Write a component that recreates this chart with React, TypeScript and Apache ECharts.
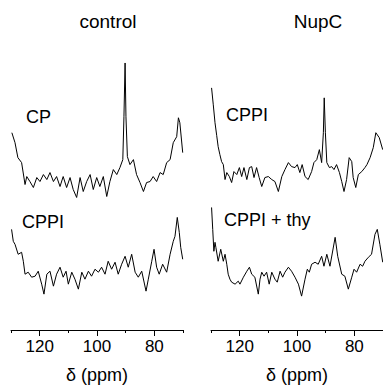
import React, { useEffect, useRef } from "react";
import * as echarts from "echarts";

// Column titles and spectrum labels
const columnTitles = ["control", "NupC"];
const spectrumLabels = ["CP", "CPPI", "CPPI", "CPPI + thy"];
const axisTitle = "δ (ppm)";
const majorTicks = [80, 100, 120];
const minorTicks = [70, 90, 110, 130];

// control, CP
const ctlCpPpm = [129.7,128.6,127.6,126.3,125.1,124.5,123.4,122.2,121.0,119.9,118.7,117.5,116.4,115.2,114.1,112.9,111.8,110.6,109.4,108.3,107.1,105.9,104.8,103.6,102.4,101.3,100.1,99.0,97.8,96.6,95.5,94.3,93.1,92.0,91.0,90.6,90.2,89.9,89.4,88.5,87.3,86.2,85.0,83.8,82.7,81.5,80.4,79.2,78.0,76.9,75.7,74.5,73.4,72.2,71.6,71.1,70.1];
const ctlCpInt = [198,188,173,168,146,154,149,143,153,149,156,151,158,149,154,144,154,143,153,141,133,153,139,149,156,141,153,144,154,134,149,161,156,163,171,214,268,214,174,166,171,156,148,139,148,149,154,149,158,156,168,171,188,194,213,208,178];

// control, CPPI
const ctlCppiPpm = [129.8,129.2,128.6,127.5,126.3,125.7,125.1,124.0,122.8,121.6,120.5,119.3,118.5,117.5,116.4,115.2,114.1,112.9,111.8,110.8,110.0,108.8,107.7,106.5,105.3,104.2,103.0,101.9,100.7,99.5,98.4,97.2,96.1,94.9,93.7,92.6,91.4,90.2,89.1,87.9,86.7,85.6,84.4,82.9,82.1,80.9,80.1,79.2,78.3,77.1,75.7,74.5,73.4,72.8,72.0,71.3,70.8,70.1];
const ctlCppiInt = [101,89,86,76,78,69,56,58,53,54,59,46,36,56,59,44,56,63,53,59,46,58,51,41,58,51,59,54,61,58,63,56,69,61,68,56,66,74,63,76,58,53,59,39,51,69,81,63,56,66,58,76,89,94,113,98,83,71];

// NupC, CPPI
const nupCppiPpm = [129.8,129.2,128.6,128.0,127.5,126.9,126.3,125.7,125.1,124.5,123.6,122.8,122.0,121.0,120.1,119.3,118.5,117.5,116.6,115.8,115.0,114.1,113.2,112.3,111.2,110.0,108.8,107.7,106.5,105.3,104.2,103.0,101.9,100.7,99.9,99.0,98.2,97.2,96.1,94.9,94.1,93.1,92.2,91.4,90.8,90.5,90.1,89.6,88.7,87.9,87.1,86.2,85.2,84.4,83.6,82.7,81.8,80.9,80.4,79.5,78.6,77.4,76.3,75.6,74.5,73.4,72.5,71.3,70.1];
const nupCppiInt = [243,226,208,195,184,176,169,166,151,158,154,148,159,156,163,154,163,151,163,164,153,163,153,144,153,154,151,149,139,154,161,168,164,163,166,158,166,154,151,159,168,171,181,168,198,233,198,168,163,164,161,166,158,149,139,151,173,169,153,143,156,159,163,166,173,183,198,193,181];

// NupC, CPPI + thy
const nupThyPpm = [129.8,129.4,129.0,128.6,128.3,127.5,126.6,125.7,125.1,124.5,124.0,123.4,122.8,121.6,120.5,119.9,118.7,117.5,116.6,115.8,114.7,113.5,112.9,112.3,111.5,110.6,109.7,108.8,107.7,106.9,105.9,105.0,104.2,103.0,101.9,100.7,99.5,98.4,97.2,96.4,95.7,94.9,93.7,92.6,91.4,90.6,89.6,88.5,86.7,85.8,84.4,83.3,82.1,80.9,80.1,79.2,78.0,77.1,76.3,75.1,74.0,72.8,72.0,71.1,70.1];
const nupThyInt = [123,101,79,88,83,69,81,69,76,66,56,51,48,46,49,46,53,59,63,56,53,36,51,58,54,58,46,58,51,48,59,53,58,63,59,53,46,34,51,61,58,66,68,66,74,64,76,64,93,74,56,54,41,53,61,58,66,64,69,73,76,96,101,86,68];

const FONT = "'Liberation Sans', Arial, Helvetica, sans-serif";

const pairs = (xs: number[], ys: number[]) => xs.map((x, i) => [x, ys[i]]);

export default function App() {
  const ref = useRef<HTMLDivElement>(null);
  useEffect(() => {
    if (!ref.current) return;
    const chart = echarts.init(ref.current, null, { renderer: "svg" });
    const grids = [
      { left: 11, top: 55, width: 172, height: 276 },
      { left: 211, top: 55, width: 172, height: 276 },
    ];
    const xAxes: any[] = [];
    grids.forEach((_, gi) => {
      xAxes.push({
        type: "value",
        gridIndex: gi,
        position: "bottom",
        min: 70,
        max: 130,
        inverse: true,
        name: axisTitle,
        nameLocation: "middle",
        nameGap: 36,
        nameTextStyle: { fontFamily: FONT, fontSize: 18, color: "#000" },
        axisLine: { show: true, lineStyle: { color: "#000", width: 1 } },
        axisTick: { show: true, customValues: majorTicks, length: 6, lineStyle: { color: "#000", width: 1 } },
        axisLabel: { show: true, customValues: majorTicks, margin: 8, fontFamily: FONT, fontSize: 17, color: "#000" },
        splitLine: { show: false },
      });
      xAxes.push({
        type: "value",
        gridIndex: gi,
        position: "bottom",
        min: 70,
        max: 130,
        inverse: true,
        axisLine: { show: false },
        axisTick: { show: true, customValues: minorTicks, length: 3, lineStyle: { color: "#000", width: 1 } },
        axisLabel: { show: false },
        splitLine: { show: false },
      });
    });
    const yAxes = grids.map((_, gi) => ({
      type: "value",
      gridIndex: gi,
      min: 0,
      max: 276,
      show: false,
      splitLine: { show: false },
    }));
    const line = (name: string, xi: number, yi: number, xs: number[], ys: number[]) => ({
      type: "line",
      name,
      xAxisIndex: xi,
      yAxisIndex: yi,
      data: pairs(xs, ys),
      showSymbol: false,
      symbol: "none",
      smooth: false,
      lineStyle: { color: "#000", width: 1 },
      silent: true,
    });
    const text = (t: string, x: number, y: number, size: number, align: string) => ({
      type: "text",
      x,
      y,
      style: { text: t, fontFamily: FONT, fontSize: size, fill: "#000", align, verticalAlign: "middle" },
    });
    chart.setOption({
      animation: false,
      backgroundColor: "#fff",
      grid: grids,
      xAxis: xAxes,
      yAxis: yAxes,
      series: [
        line("control CP", 0, 0, ctlCpPpm, ctlCpInt),
        line("control CPPI", 0, 0, ctlCppiPpm, ctlCppiInt),
        line("NupC CPPI", 2, 1, nupCppiPpm, nupCppiInt),
        line("NupC CPPI + thy", 2, 1, nupThyPpm, nupThyInt),
      ],
      graphic: [
        text(columnTitles[0], 108, 21, 19, "center"),
        text(columnTitles[1], 318, 21, 19, "center"),
        text(spectrumLabels[0], 26, 117, 18, "left"),
        text(spectrumLabels[1], 22, 222, 18, "left"),
        text(spectrumLabels[2], 226, 115, 18, "left"),
        text(spectrumLabels[3], 224, 220, 18, "left"),
      ],
    });
    return () => chart.dispose();
  }, []);
  return (
    <div
      ref={ref}
      style={{ position: "fixed", left: 0, top: 0, width: 383, height: 389, background: "#fff" }}
    />
  );
}
